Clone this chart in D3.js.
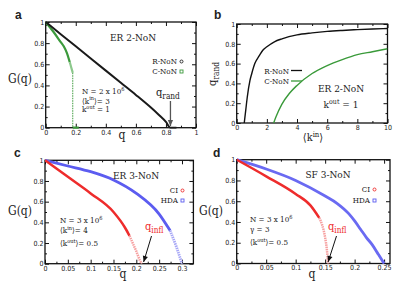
<!DOCTYPE html>
<html>
<head>
<meta charset="utf-8">
<script src="https://cdn.jsdelivr.net/npm/d3@7"></script>
<style>
  body { margin: 0; background: #fff; }
  svg text { font-family: "DejaVu Serif", serif; font-stretch: condensed; fill: #222; }
  .tick text { font-family: "DejaVu Sans", sans-serif; font-stretch: condensed; font-size: 7px; fill: #222; }
  .tick line { stroke: #111; }
</style>
</head>
<body>
<div id="chart"></div>
<script>
// panel a : G(q) for ER 2-NoN
let aRnonQ = [0, 0.1, 0.2, 0.3, 0.4, 0.5, 0.6, 0.7, 0.75, 0.8, 0.83, 0.87];
let aRnonG = [1, 0.885, 0.77, 0.655, 0.54, 0.425, 0.31, 0.19, 0.125, 0.055, 0, 0];
let aCnonQ = [0, 0.05, 0.1, 0.12, 0.14, 0.16, 0.17, 0.18];
let aCnonG = [1, 0.91, 0.81, 0.77, 0.71, 0.62, 0.57, 0.52];
let aCnonTail = [0.18, 0.22];

// panel b : q_rand vs <k_in>
let bRnonK = [0.5, 0.6, 0.7, 0.88, 1, 1.2, 1.5, 1.76, 2, 2.5, 3, 4, 5, 6, 7, 8, 9, 10];
let bRnonQ = [0, 0.13, 0.26, 0.43, 0.5, 0.6, 0.68, 0.74, 0.77, 0.82, 0.85, 0.89, 0.91, 0.925, 0.935, 0.943, 0.95, 0.955];
let bCnonK = [2.45, 2.6, 3, 3.5, 4, 5, 6, 7, 8, 9, 10];
let bCnonQ = [0, 0.06, 0.19, 0.3, 0.38, 0.5, 0.58, 0.64, 0.69, 0.72, 0.75];

// panel c : ER 3-NoN
let cCiQ = [0, 0.05, 0.1, 0.15, 0.175, 0.185, 0.193, 0.2, 0.208, 0.212];
let cCiG = [1, 0.84, 0.68, 0.5, 0.35, 0.27, 0.19, 0.12, 0.03, 0];
let cHdaQ = [0, 0.05, 0.1, 0.15, 0.2, 0.25, 0.274, 0.288, 0.3];
let cHdaG = [1, 0.945, 0.89, 0.81, 0.68, 0.48, 0.32, 0.16, 0];

// panel d : SF 3-NoN
let dCiQ = [0, 0.05, 0.1, 0.125, 0.14, 0.145, 0.15, 0.153, 0.155];
let dCiG = [1, 0.84, 0.67, 0.56, 0.44, 0.37, 0.25, 0.13, 0];
let dHdaQ = [0, 0.05, 0.1, 0.15, 0.17, 0.19, 0.2, 0.21, 0.22, 0.23, 0.24, 0.25];
let dHdaG = [1, 0.91, 0.8, 0.65, 0.58, 0.48, 0.41, 0.33, 0.25, 0.18, 0.09, 0];

let gTicks = [0, 0.2, 0.4, 0.6, 0.8, 1];
let gMinor = [0.1, 0.3, 0.5, 0.7, 0.9];

let svg = d3.select("#chart").append("svg").attr("width", 415).attr("height", 294);

let fmt = d => String(+d.toFixed(3));

function panel(o) {
  let x = d3.scaleLinear().domain(o.xDom).range([o.left, o.right]);
  let y = d3.scaleLinear().domain([0, 1]).range([o.bottom, o.top]);
  let g = svg.append("g");

  // ticks on all sides, pointing in
  let sides = [
    [d3.axisBottom(x), o.bottom, true, "x"],
    [d3.axisTop(x), o.top, false, "x"],
    [d3.axisLeft(y), o.left, true, "y"],
    [d3.axisRight(y), o.right, false, "y"]
  ];
  sides.forEach(([ax, pos, lab, dir]) => {
    let tr = dir == "x" ? "translate(0," + pos + ")" : "translate(" + pos + ",0)";
    let major = dir == "x" ? o.xMajor : gTicks;
    let minor = dir == "x" ? o.xMinor : gMinor;
    let a1 = g.append("g").attr("transform", tr)
      .call(ax.tickValues(major).tickSize(-4).tickPadding(dir == "x" ? 2 : 1.5).tickFormat(lab ? fmt : ""));
    a1.select(".domain").remove();
    let a2 = g.append("g").attr("transform", tr)
      .call(ax.tickValues(minor).tickSize(-2).tickFormat(""));
    a2.select(".domain").remove();
  });

  g.append("rect")
    .attr("x", o.left).attr("y", o.top)
    .attr("width", o.right - o.left).attr("height", o.bottom - o.top)
    .attr("fill", "none").attr("stroke", "#111").attr("stroke-width", 1.3);

  let clip = "clip" + o.name;
  svg.append("clipPath").attr("id", clip).append("rect")
    .attr("x", o.left).attr("y", o.top - 2)
    .attr("width", o.right - o.left).attr("height", o.bottom - o.top + 3);
  let plot = svg.append("g").attr("clip-path", "url(#" + clip + ")");

  svg.append("text").attr("x", o.lx).attr("y", o.ly)
    .style("font-family", "Liberation Sans, Arial, sans-serif")
    .style("font-weight", "bold").style("font-size", "12px").style("font-stretch", "normal")
    .attr("fill", "#111").text(o.name);
  return { g, x, y, plot };
}

function curve(p, xs, ys, color, width, extra) {
  let line = d3.line().x(d => p.x(d[0])).y(d => p.y(d[1])).curve(d3.curveMonotoneX);
  let pts = xs.map((v, i) => [v, ys[i]]);
  let path = p.plot.append("path").datum(pts).attr("d", line)
    .attr("fill", "none").attr("stroke", color).attr("stroke-width", width)
    .attr("stroke-linejoin", "round");
  if (extra) extra(path);
  return path;
}

// fading tail: solid up to index cut, lighter after
function fadeCurve(p, xs, ys, color, light, width, cut) {
  curve(p, xs.slice(0, cut + 1), ys.slice(0, cut + 1), color, width);
  curve(p, xs.slice(cut), ys.slice(cut), light, width, s => s.attr("stroke-dasharray", "1.5,0.8"));
}

function arrow(g, x1, y1, x2, y2, color, w) {
  g.append("line").attr("x1", x1).attr("y1", y1).attr("x2", x2).attr("y2", y2)
    .attr("stroke", color).attr("stroke-width", w);
  let ang = Math.atan2(y2 - y1, x2 - x1);
  let L = 6, W = 2.6;
  let bx = x2 - L * Math.cos(ang), by = y2 - L * Math.sin(ang);
  let px = -Math.sin(ang) * W, py = Math.cos(ang) * W;
  g.append("path")
    .attr("d", `M${x2},${y2}L${bx + px},${by + py}L${bx - px},${by - py}Z`)
    .attr("fill", color);
}

function txt(x, y, size, parts, color, anchor) {
  let t = svg.append("text").attr("x", x).attr("y", y)
    .style("font-size", size + "px").attr("text-anchor", anchor || "start");
  if (color) t.style("fill", color);
  parts.forEach(([s, kind]) => {
    let ts = t.append("tspan").text(s);
    if (kind == "sup") ts.style("font-size", (size * 0.7) + "px").attr("dy", -size * 0.4);
    if (kind == "sub") ts.style("font-size", (size * 0.75) + "px").attr("dy", size * 0.3);
    if (kind == "back") ts.attr("dy", size * 0.4);
  });
  return t;
}

// ---------- panel a ----------
let pa = panel({ name: "a", left: 45.7, right: 196, top: 22, bottom: 127.7, xDom: [0, 1],
  xMajor: [0, 0.2, 0.4, 0.6, 0.8, 1], xMinor: [0.1, 0.3, 0.5, 0.7, 0.9], lx: 15, ly: 19 });
curve(pa, aCnonQ.slice(0, 6), aCnonG.slice(0, 6), "#3c9a3c", 2.2);
curve(pa, aCnonQ.slice(5), aCnonG.slice(5), "#8cc88c", 2.2);
pa.plot.append("line")
  .attr("x1", pa.x(aCnonQ[aCnonQ.length - 1])).attr("x2", pa.x(aCnonQ[aCnonQ.length - 1]))
  .attr("y1", pa.y(aCnonG[aCnonG.length - 1])).attr("y2", pa.y(0))
  .attr("stroke", "#3c9a3c").attr("stroke-width", 1).attr("stroke-dasharray", "1.5,1");
pa.plot.append("line")
  .attr("x1", pa.x(aCnonTail[0])).attr("x2", pa.x(aCnonTail[1]))
  .attr("y1", pa.y(0)).attr("y2", pa.y(0))
  .attr("stroke", "#3c9a3c").attr("stroke-width", 2.5);
curve(pa, aRnonQ, aRnonG, "#1a1a1a", 2);
arrow(svg, pa.x(0.83), 101, pa.x(0.83), 126, "#555", 1.3);
txt(122, 139, 12, [["q"]], null, "middle");
txt(8, 83, 12, [["G(q)"]]);
txt(110, 41, 10, [["ER  2-NoN"]]);
txt(177, 64, 8, [["R-NoN"]], null, "end");
txt(177, 74, 8, [["C-NoN"]], null, "end");
svg.append("circle").attr("cx", 181.5).attr("cy", 61.5).attr("r", 1.5)
  .attr("fill", "none").attr("stroke", "#222").attr("stroke-width", 0.9);
svg.append("rect").attr("x", 180).attr("y", 70).attr("width", 3).attr("height", 3)
  .attr("fill", "none").attr("stroke", "#3c9a3c").attr("stroke-width", 0.9);
txt(82, 94, 8, [["N = 2 x 10"], ["6", "sup"]]);
txt(82, 103.5, 8, [["\u27E8k"], ["in", "sup"], ["\u27E9= 3", "back"]]);
txt(82, 112, 8, [["k"], ["out", "sup"], [" = 1", "back"]]);
txt(156, 96, 11, [["q"], ["rand", "sub"]]);

// ---------- panel b ----------
let pb = panel({ name: "b", left: 236.7, right: 387.5, top: 24, bottom: 123, xDom: [0, 10],
  xMajor: [0, 2, 4, 6, 8, 10], xMinor: [1, 3, 5, 7, 9], lx: 214, ly: 19 });
curve(pb, bRnonK, bRnonQ, "#111", 1.4);
curve(pb, bCnonK, bCnonQ, "#3a9a3a", 1.4);
txt(289, 73.5, 8, [["R-NoN"]], null, "end");
txt(289, 84, 8, [["C-NoN"]], null, "end");
svg.append("line").attr("x1", 291).attr("x2", 302).attr("y1", 70.5).attr("y2", 70.5)
  .attr("stroke", "#111").attr("stroke-width", 1.3);
svg.append("line").attr("x1", 291).attr("x2", 302).attr("y1", 81).attr("y2", 81)
  .attr("stroke", "#3a9a3a").attr("stroke-width", 1.3);
txt(341, 92, 10, [["ER  2-NoN"]], null, "middle");
txt(341, 108, 10, [["k"], ["out", "sup"], [" = 1", "back"]], null, "middle");
txt(313, 141, 11, [["\u27E8k"], ["in", "sup"], ["\u27E9", "back"]], null, "middle");
txt(0, 0, 11, [["q"], ["rand", "sub"]], null, "middle")
  .attr("transform", "translate(216,74) rotate(-90)");

// ---------- panel c ----------
let pc = panel({ name: "c", left: 45, right: 193.4, top: 160.3, bottom: 263.7, xDom: [0, 0.325],
  xMajor: [0, 0.05, 0.1, 0.15, 0.2, 0.25, 0.3], xMinor: [0.025, 0.075, 0.125, 0.175, 0.225, 0.275],
  lx: 14, ly: 157 });
fadeCurve(pc, cHdaQ, cHdaG, "#5c5cf0", "#a8a8f6", 2.8, 6);
fadeCurve(pc, cCiQ, cCiG, "#ee2c2c", "#f6a0a0", 2.5, 5);
txt(136, 179, 10, [["ER  3-NoN"]], null, "middle");
txt(178, 193, 8, [["CI"]], null, "end");
txt(178, 203, 8, [["HDA"]], null, "end");
svg.append("circle").attr("cx", 182.5).attr("cy", 190.5).attr("r", 1.5)
  .attr("fill", "none").attr("stroke", "#ee2c2c").attr("stroke-width", 0.9);
svg.append("rect").attr("x", 181).attr("y", 199).attr("width", 3).attr("height", 3)
  .attr("fill", "none").attr("stroke", "#5c5cf0").attr("stroke-width", 0.9);
txt(60, 223, 8, [["N = 3 x 10"], ["6", "sup"]]);
txt(60, 233, 8, [["\u27E8k"], ["in", "sup"], ["\u27E9= 4", "back"]]);
txt(60, 246, 8, [["\u27E8k"], ["out", "sup"], ["\u27E9= 0.5", "back"]]);
txt(145, 230, 11, [["q"], ["infl", "sub"]], "#ee2c2c");
arrow(svg, 151.5, 236, pc.x(0.216), 262, "#111", 1);
txt(123, 278, 12, [["q"]], null, "middle");
txt(8, 215, 12, [["G(q)"]]);

// ---------- panel d ----------
let pd = panel({ name: "d", left: 236.7, right: 390, top: 159.7, bottom: 263.5, xDom: [0, 0.26],
  xMajor: [0, 0.05, 0.1, 0.15, 0.2, 0.25], xMinor: [0.025, 0.075, 0.125, 0.175, 0.225],
  lx: 213, ly: 157 });
curve(pd, dHdaQ, dHdaG, "#6a6af2", 2.8);
fadeCurve(pd, dCiQ, dCiG, "#ee2c2c", "#f6a0a0", 2.5, 4);
txt(328, 178, 10, [["SF  3-NoN"]], null, "middle");
txt(370, 192, 8, [["CI"]], null, "end");
txt(370, 203, 8, [["HDA"]], null, "end");
svg.append("circle").attr("cx", 374.5).attr("cy", 189.5).attr("r", 1.5)
  .attr("fill", "none").attr("stroke", "#ee2c2c").attr("stroke-width", 0.9);
svg.append("rect").attr("x", 373).attr("y", 199).attr("width", 3).attr("height", 3)
  .attr("fill", "none").attr("stroke", "#5c5cf0").attr("stroke-width", 0.9);
txt(250, 222, 8, [["N = 3 x 10"], ["6", "sup"]]);
txt(250, 232, 8, [["\u03B3 = 3"]]);
txt(250, 245, 8, [["\u27E8k"], ["out", "sup"], ["\u27E9= 0.5", "back"]]);
txt(328, 230, 11, [["q"], ["infl", "sub"]], "#ee2c2c");
arrow(svg, 336.5, 236, pd.x(0.155), 262, "#111", 1);
txt(312, 278, 12, [["q"]], null, "middle");
txt(199, 215, 12, [["G(q)"]]);
</script>
</body>
</html>
